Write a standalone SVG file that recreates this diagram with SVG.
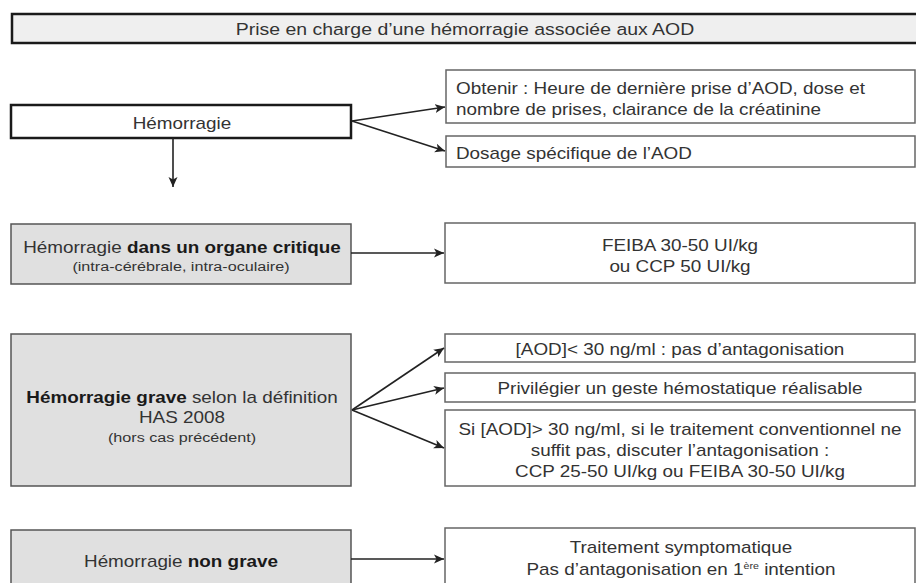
<svg xmlns="http://www.w3.org/2000/svg" width="916" height="583" viewBox="0 0 916 583">
<style>
  text { font-family: "Liberation Sans", Arial, sans-serif; font-size: 16px; fill: #333; transform-box: fill-box; transform-origin: center; transform: scaleX(1.18); }
  text.l { transform-origin: left center; }
  text.m { text-anchor: middle; }
  .s { font-size: 13.7px; }
  .b { font-weight: bold; fill: #1a1a1a; }
  .title { font-size: 16.5px; }
  .box { fill: #ffffff; stroke: #666; stroke-width: 1.5; }
  .grey { fill: #e0e0e0; stroke: #555; stroke-width: 1.5; }
  .thick { fill: #ffffff; stroke: #1a1a1a; stroke-width: 2.5; }
  .conn { stroke: #222; stroke-width: 1.6; fill: none; marker-end: url(#arr); }
</style>
<defs>
  <marker id="arr" markerUnits="userSpaceOnUse" markerWidth="11" markerHeight="10" refX="10" refY="5" orient="auto">
    <path d="M0,0.5 L10,5 L0,9.5 L2.5,5 Z" fill="#222"/>
  </marker>
</defs>
<rect width="916" height="583" fill="#ffffff"/>

<g id="title">
  <rect x="12" y="14" width="920" height="29" fill="#efefef" stroke="#1a1a1a" stroke-width="2.5"/>
  <text class="m title" x="465" y="35">Prise en charge d’une hémorragie associée aux AOD</text>
</g>

<g id="hemorragie">
  <rect class="thick" x="11" y="105" width="340" height="33"/>
  <text class="m" x="182" y="129">Hémorragie</text>
</g>

<g id="obtenir">
  <rect class="box" x="446" y="70" width="469" height="53"/>
  <text class="l" x="456" y="94">Obtenir : Heure de dernière prise d’AOD, dose et</text>
  <text class="l" x="456" y="115">nombre de prises, clairance de la créatinine</text>
</g>

<g id="dosage">
  <rect class="box" x="446" y="136" width="469" height="31"/>
  <text class="l" x="456" y="159">Dosage spécifique de l’AOD</text>
</g>

<g id="organe">
  <rect class="grey" x="11" y="224" width="340" height="60"/>
  <text class="m" x="182" y="253">Hémorragie <tspan class="b">dans un organe critique</tspan></text>
  <text class="m s" x="181" y="271">(intra-cérébrale, intra-oculaire)</text>
</g>

<g id="feiba">
  <rect class="box" x="445" y="223" width="470" height="60"/>
  <text class="m" x="680" y="251">FEIBA 30-50 UI/kg</text>
  <text class="m" x="680" y="272">ou CCP 50 UI/kg</text>
</g>

<g id="grave">
  <rect class="grey" x="11" y="334" width="340" height="152"/>
  <text class="m" x="182" y="403"><tspan class="b">Hémorragie grave</tspan> selon la définition</text>
  <text class="m" x="182" y="423">HAS 2008</text>
  <text class="m s" x="182" y="442">(hors cas précédent)</text>
</g>

<g id="inf30">
  <rect class="box" x="445" y="334" width="470" height="28"/>
  <text class="m" x="680" y="355">[AOD]&lt; 30 ng/ml : pas d’antagonisation</text>
</g>

<g id="geste">
  <rect class="box" x="445" y="373" width="470" height="29"/>
  <text class="m" x="680" y="394">Privilégier un geste hémostatique réalisable</text>
</g>

<g id="sup30">
  <rect class="box" x="445" y="410" width="470" height="76"/>
  <text class="m" x="680" y="435">Si [AOD]&gt; 30 ng/ml, si le traitement conventionnel ne</text>
  <text class="m" x="680" y="456">suffit pas, discuter l’antagonisation :</text>
  <text class="m" x="680" y="477">CCP 25-50 UI/kg ou FEIBA 30-50 UI/kg</text>
</g>

<g id="nongrave">
  <rect class="grey" x="11" y="530" width="340" height="70"/>
  <text class="m" x="181" y="567">Hémorragie <tspan class="b">non grave</tspan></text>
</g>

<g id="symptomatique">
  <rect class="box" x="445" y="528" width="470" height="70"/>
  <text class="m" x="681" y="553">Traitement symptomatique</text>
  <text class="m" x="681" y="575">Pas d’antagonisation en 1<tspan font-size="9" dy="-6">ère</tspan><tspan dy="6"> intention</tspan></text>
</g>

<g id="connectors">
  <line class="conn" x1="352" y1="121" x2="445" y2="107"/>
  <line class="conn" x1="352" y1="121" x2="445" y2="151"/>
  <line class="conn" x1="173" y1="138" x2="173" y2="187"/>
  <line class="conn" x1="351" y1="253" x2="444" y2="253"/>
  <line class="conn" x1="352" y1="410" x2="444" y2="348"/>
  <line class="conn" x1="352" y1="410" x2="444" y2="388"/>
  <line class="conn" x1="352" y1="410" x2="444" y2="448"/>
  <line class="conn" x1="351" y1="559" x2="444" y2="559"/>
</g>
</svg>
